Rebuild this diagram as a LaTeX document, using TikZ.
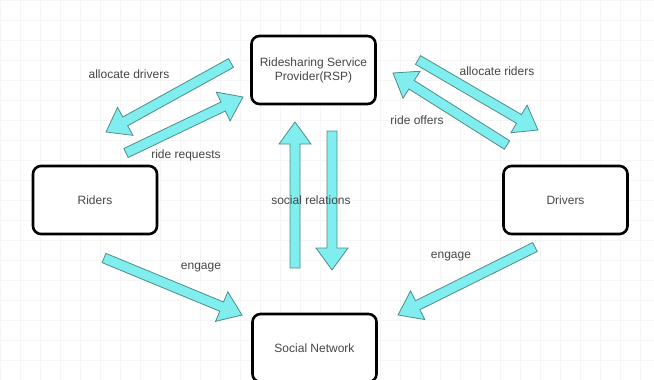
\documentclass[tikz,border=0pt]{standalone}
\usepackage{fontspec}
\setmainfont{Liberation Sans}
\usepackage{tikz}
\usetikzlibrary{calc,positioning}

\definecolor{arrfill}{RGB}{128,238,238}
\definecolor{arrline}{RGB}{80,140,140}
\definecolor{txtgray}{RGB}{70,70,70}

% block arrow from tail #1 to tip #2
\newcommand{\blockarrow}[2]{%
  \coordinate (neck) at ($(#2)!22pt!(#1)$);
  \filldraw[fatarrow] ($(#1)!5pt!90:(#2)$) -- ($(neck)!5pt!90:(#2)$)
    -- ($(neck)!16pt!90:(#2)$) -- (#2) -- ($(neck)!16pt!-90:(#2)$)
    -- ($(neck)!5pt!-90:(#2)$) -- ($(#1)!5pt!-90:(#2)$) -- cycle;}

\begin{document}
\begin{tikzpicture}[
    x=1pt, y=-1pt,
    font=\fontsize{12}{14}\selectfont,
    box/.style={draw, line width=2.6pt, rounded corners=8pt, fill=white,
        minimum width=124pt, minimum height=68pt, align=center, text=txtgray},
    lbl/.style={text=txtgray, inner sep=1pt},
    fatarrow/.style={fill=arrfill, draw=arrline, line width=0.8pt, line join=miter}
]

% --- background grid ---
\useasboundingbox (0,0) rectangle (654,380);
\clip (0,0) rectangle (654,380);
\fill[white] (0,0) rectangle (654,380);
\draw[black!4, line width=0.6pt, step=20pt] (0,0) grid (654,380);

% --- boxes ---
\node[box] (rsp) at (313.5,70) {Ridesharing Service\\Provider(RSP)};
\node[box] (riders) at (95,200) {Riders};
\node[box] (drivers) at (565.5,200) {Drivers};
\node[box] (social) at (314.5,348) {Social Network};

% --- arrow ends ---
\coordinate (ad_tail) at (231,63);
\coordinate (ad_tip) at (106,132);
\coordinate (rr_tail) at (126,153);
\coordinate (rr_tip) at (243,97);
\coordinate (ar_tail) at (418,60);
\coordinate (ar_tip) at (538,130);
\coordinate (ro_tail) at (507,145);
\coordinate (ro_tip) at (393,73);
\coordinate (up_tail) at (295,268);
\coordinate (up_tip) at (295,122);
\coordinate (dn_tail) at (332,131);
\coordinate (dn_tip) at (332,270);
\coordinate (el_tail) at (104,258);
\coordinate (el_tip) at (242,315);
\coordinate (er_tail) at (535,247);
\coordinate (er_tip) at (398,315);

% --- arrows ---
\blockarrow{ad_tail}{ad_tip}
\blockarrow{rr_tail}{rr_tip}
\blockarrow{ar_tail}{ar_tip}
\blockarrow{ro_tail}{ro_tip}
\blockarrow{up_tail}{up_tip}
\blockarrow{dn_tail}{dn_tip}
\blockarrow{el_tail}{el_tip}
\blockarrow{er_tail}{er_tip}

% --- labels ---
\node[lbl] (l_alloc_d) at (129,74) {allocate drivers};
\node[lbl] (l_req) at (186,155) {ride requests};
\node[lbl] (l_alloc_r) at (497,71) {allocate riders};
\node[lbl] (l_offer) at (417,120) {ride offers};
\node[lbl] (l_social) at (311,200) {social relations};
\node[lbl] (l_eng_l) at (201,268) {engage};
\node[lbl] (l_eng_r) at (451,257) {engage};

\end{tikzpicture}
\end{document}
